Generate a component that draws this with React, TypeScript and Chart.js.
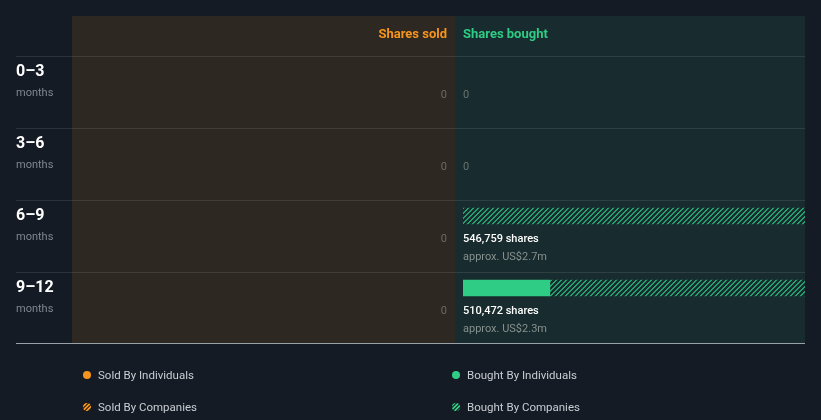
import React, { useEffect, useRef } from "react";
import { Chart, registerables } from "chart.js";

Chart.register(...registerables);

const periods = ["0–3", "3–6", "6–9", "9–12"];
const periodUnit = "months";
const soldIndividuals = [0, 0, 0, 0];
const soldCompanies = [0, 0, 0, 0];
const boughtIndividuals = [0, 0, 0, 127000];
const boughtCompanies = [0, 0, 546759, 383472];
const soldLabels = ["0", "0", "0", "0"];
const boughtLabels = ["0", "0", "546,759 shares", "510,472 shares"];
const boughtValueLabels = ["", "", "approx. US$2.7m", "approx. US$2.3m"];
const scaleMax = 500000;
const legendItems = [
  "Sold By Individuals",
  "Bought By Individuals",
  "Sold By Companies",
  "Bought By Companies",
];

const BG = "#151b25";
const SOLD_BG = "#2d2822";
const BOUGHT_BG = "#182b2e";
const ORANGE = "#f7941d";
const GREEN = "#2ecc84";
const STRIPE_G = "#23a06b";
const STRIPE_O = "#d27a12";
const FONT = "Roboto, 'Noto Sans', sans-serif";

function makePattern(bg: string, fg: string, size = 5): CanvasPattern | string {
  const c = document.createElement("canvas");
  c.width = size;
  c.height = size;
  const g = c.getContext("2d");
  if (!g) return fg;
  g.fillStyle = bg;
  g.fillRect(0, 0, size, size);
  g.fillStyle = fg;
  for (let x = 0; x < size; x++) {
    for (let y = 0; y < size; y++) {
      const m = (x + y) % size;
      if (m === 0 || m === 1) g.fillRect(x, y, 1, 1);
    }
  }
  const p = g.createPattern(c, "repeat");
  return p || fg;
}

const nz = (arr: number[]) => arr.map((v) => (v === 0 ? null : v));

export default function App() {
  const ref = useRef<HTMLCanvasElement | null>(null);

  useEffect(() => {
    document.body.style.margin = "0";
    document.body.style.background = BG;
    const canvas = ref.current;
    if (!canvas) return;
    const greenPattern = makePattern(BOUGHT_BG, STRIPE_G);
    const orangePattern = makePattern(SOLD_BG, STRIPE_O);

    const panelPlugin = {
      id: "panels",
      beforeDraw(chart: any) {
        const ctx = chart.ctx;
        const area = chart.chartArea;
        const yS = chart.scales.y;
        const W = chart.width;
        const H = chart.height;
        const splitX = area.left - 8;
        const soldLeft = 72;
        const top = 16;
        const lastCenter = yS.getPixelForValue(periods.length - 1);
        const bottom = lastCenter - 16 + 71;
        ctx.save();
        ctx.fillStyle = BG;
        ctx.fillRect(0, 0, W, H);
        ctx.fillStyle = SOLD_BG;
        ctx.fillRect(soldLeft, top, splitX - soldLeft, bottom - top);
        ctx.fillStyle = BOUGHT_BG;
        ctx.fillRect(splitX, top, area.right - splitX, bottom - top);
        ctx.fillStyle = "rgba(255,255,255,0.1)";
        periods.forEach((_, i) => {
          const rowTop = Math.round(yS.getPixelForValue(i) - 16);
          ctx.fillRect(16, rowTop, area.right - 16, 1);
        });
        ctx.fillStyle = "#9aa1a8";
        ctx.fillRect(16, bottom, area.right - 16, 1);
        ctx.restore();
      },
      afterDraw(chart: any) {
        const ctx = chart.ctx;
        const area = chart.chartArea;
        const yS = chart.scales.y;
        const splitX = area.left - 8;
        ctx.save();
        ctx.textBaseline = "middle";
        ctx.font = `bold 13px ${FONT}`;
        ctx.textAlign = "right";
        ctx.fillStyle = ORANGE;
        ctx.fillText("Shares sold", splitX - 8, 35);
        ctx.textAlign = "left";
        ctx.fillStyle = GREEN;
        ctx.fillText("Shares bought", area.left, 35);

        periods.forEach((p, i) => {
          const rowTop = yS.getPixelForValue(i) - 16;
          ctx.textAlign = "left";
          ctx.font = `bold 16px ${FONT}`;
          ctx.fillStyle = "#ffffff";
          ctx.fillText(p, 16, rowTop + 15.5);
          ctx.font = `11px ${FONT}`;
          ctx.fillStyle = "#80868f";
          ctx.fillText(periodUnit, 16, rowTop + 37);

          ctx.font = `11px ${FONT}`;
          ctx.textAlign = "right";
          ctx.fillStyle = "#6c6a66";
          ctx.fillText(soldLabels[i], splitX - 8, rowTop + 39);

          ctx.textAlign = "left";
          const hasVal = boughtValueLabels[i] !== "";
          ctx.font = hasVal ? `500 11px ${FONT}` : `11px ${FONT}`;
          ctx.fillStyle = hasVal ? "#ffffff" : "#66756f";
          ctx.fillText(boughtLabels[i], area.left, rowTop + 39);
          if (hasVal) {
            ctx.font = `11px ${FONT}`;
            ctx.fillStyle = "#86918e";
            ctx.fillText(boughtValueLabels[i], area.left, rowTop + 57);
          }
        });

        const legendPos = [
          [87, 375],
          [456, 375],
          [87, 407],
          [456, 407],
        ];
        legendItems.forEach((label, i) => {
          const [x, y] = legendPos[i];
          ctx.beginPath();
          ctx.arc(x, y, 4, 0, Math.PI * 2);
          if (i === 0) ctx.fillStyle = ORANGE;
          else if (i === 1) ctx.fillStyle = GREEN;
          else if (i === 2) ctx.fillStyle = makePattern("#5a3a14", ORANGE, 4);
          else ctx.fillStyle = makePattern("#1d4a38", GREEN, 4);
          ctx.fill();
          ctx.font = `11.5px ${FONT}`;
          ctx.fillStyle = "#c9cdd2";
          ctx.textAlign = "left";
          ctx.fillText(label, x + 11, y + 1);
        });
        ctx.restore();
      },
    };

    const chart = new Chart(canvas, {
      type: "bar",
      data: {
        labels: periods,
        datasets: [
          {
            label: "Bought By Individuals",
            data: nz(boughtIndividuals),
            backgroundColor: GREEN,
            borderWidth: 0,
            barThickness: 16,
            stack: "bought",
          },
          {
            label: "Bought By Companies",
            data: nz(boughtCompanies),
            backgroundColor: greenPattern as any,
            borderWidth: 0,
            barThickness: 16,
            stack: "bought",
          },
          {
            label: "Sold By Individuals",
            data: nz(soldIndividuals),
            backgroundColor: ORANGE,
            borderWidth: 0,
            barThickness: 16,
            stack: "sold",
            hidden: true,
          },
          {
            label: "Sold By Companies",
            data: nz(soldCompanies),
            backgroundColor: orangePattern as any,
            borderWidth: 0,
            barThickness: 16,
            stack: "sold",
            hidden: true,
          },
        ],
      },
      options: {
        indexAxis: "y",
        responsive: false,
        animation: false,
        layout: { padding: { left: 463, right: 16, top: 36, bottom: 96 } },
        scales: {
          x: { stacked: true, min: 0, max: scaleMax, display: false },
          y: { stacked: true, display: false },
        },
        plugins: {
          legend: { display: false },
          tooltip: { enabled: false },
        },
      },
      plugins: [panelPlugin],
    });
    return () => chart.destroy();
  }, []);

  return (
    <div style={{ position: "absolute", left: 0, top: 0, width: 821, height: 420 }}>
      <canvas ref={ref} width={821} height={420} />
    </div>
  );
}
